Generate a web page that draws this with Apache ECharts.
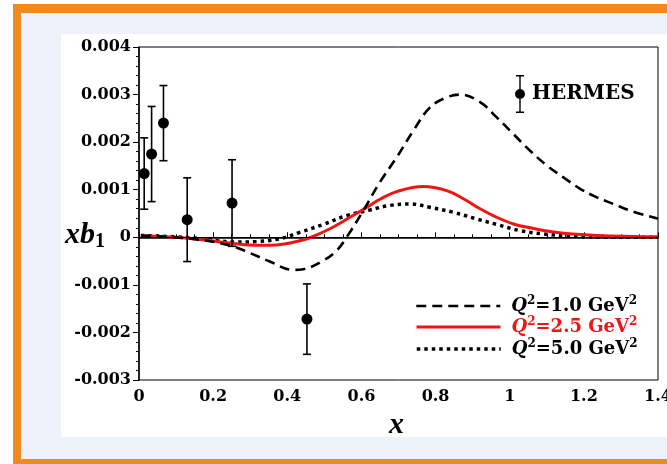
<!DOCTYPE html>
<html>
<head>
<meta charset="utf-8">
<script src="https://cdn.jsdelivr.net/npm/echarts@6.0.0/dist/echarts.min.js"></script>
<style>
  html, body { margin: 0; padding: 0; background: #fff; overflow: hidden; }
  .frame { position: absolute; left: 13px; top: 4px; width: 700px; height: 470px; background: #f08a1f; }
  .inner { position: absolute; left: 21px; top: 13px; width: 700px; height: 446px; background: #eef2fa; }
  .panel { position: absolute; left: 61px; top: 34px; width: 700px; height: 403px; background: #fff; }
  #chart { position: absolute; left: 0; top: 0; width: 667px; height: 464px; }
</style>
</head>
<body>
<div class="frame"></div>
<div class="inner"></div>
<div class="panel"></div>
<div id="chart"></div>
<script>
// HERMES data points (x, xb1, error)
var hermesX = [0.014, 0.034, 0.066, 0.130, 0.251, 0.453];
var hermesY = [0.00134, 0.00175, 0.00240, 0.00037, 0.00072, -0.00172];
var hermesErr = [0.00075, 0.00100, 0.00079, 0.00088, 0.00091, 0.00074];

// model curves (y in units of 1e-3)
var q1X = [0.005, 0.14, 0.245, 0.29, 0.353, 0.416, 0.443, 0.497, 0.533, 0.56, 0.605, 0.65, 0.695, 0.74, 0.785, 0.83, 0.866, 0.92, 0.965, 1.01, 1.055, 1.10, 1.145, 1.19, 1.235, 1.28, 1.325, 1.40];
var q1Y = [0.036, -0.03, -0.17, -0.30, -0.51, -0.685, -0.67, -0.49, -0.28, 0.0, 0.56, 1.16, 1.68, 2.24, 2.73, 2.94, 3.00, 2.84, 2.52, 2.17, 1.82, 1.51, 1.26, 1.02, 0.84, 0.70, 0.56, 0.39];

var q25X = [0.005, 0.147, 0.245, 0.326, 0.371, 0.425, 0.461, 0.515, 0.569, 0.623, 0.65, 0.695, 0.767, 0.83, 0.875, 0.92, 0.965, 1.01, 1.055, 1.10, 1.145, 1.235, 1.40];
var q25Y = [0.03, -0.03, -0.12, -0.17, -0.16, -0.09, -0.01, 0.18, 0.42, 0.67, 0.80, 0.96, 1.065, 0.98, 0.81, 0.60, 0.42, 0.28, 0.20, 0.13, 0.085, 0.04, 0.01];

var q5X = [0.005, 0.14, 0.21, 0.254, 0.317, 0.38, 0.434, 0.497, 0.56, 0.623, 0.677, 0.731, 0.785, 0.848, 0.911, 0.965, 1.028, 1.091, 1.154, 1.235, 1.40];
var q5Y = [0.04, -0.01, -0.07, -0.10, -0.09, -0.03, 0.105, 0.27, 0.455, 0.575, 0.67, 0.70, 0.63, 0.525, 0.385, 0.27, 0.14, 0.07, 0.03, 0.005, 0.0];

var xTicks = [0, 0.2, 0.4, 0.6, 0.8, 1.0, 1.2, 1.4];
var yTicks = [-0.003, -0.002, -0.001, 0, 0.001, 0.002, 0.003, 0.004];

var seriesNames = ['Q1', 'Q25', 'Q5'];
var legendTexts = ['=1.0 GeV', '=2.5 GeV', '=5.0 GeV'];

function zip(xs, ys) {
  return xs.map(function (x, i) { return [x, ys[i] / 1000]; });
}

var FONT = '"DejaVu Serif", serif';
var RED = '#f01414';

var chart = echarts.init(document.getElementById('chart'), null, { renderer: 'canvas' });

function legendRich(color) {
  return {
    q: { fontFamily: FONT, fontWeight: 'bold', fontStyle: 'italic', fontSize: 18, color: color, lineHeight: 22 },
    s: { fontFamily: FONT, fontWeight: 'bold', fontSize: 12, color: color, verticalAlign: 'top', lineHeight: 14 },
    t: { fontFamily: FONT, fontWeight: 'bold', fontSize: 18, color: color, lineHeight: 22 }
  };
}

function curveLegend(i, top, color, lineWidth) {
  return {
    left: 415,
    top: top,
    padding: 0,
    orient: 'horizontal',
    itemWidth: 84,
    itemHeight: 14,
    data: [seriesNames[i]],
    selectedMode: false,
    itemStyle: { opacity: 0 },
    lineStyle: { width: lineWidth },
    formatter: function () { return '{q|Q}{s|2}{t|' + legendTexts[i] + '}{s|2}'; },
    textStyle: { color: color, padding: [0, 0, 0, 6], rich: legendRich(color) }
  };
}

var option = {
  animation: false,
  backgroundColor: 'transparent',
  grid: {
    left: 139, right: 9, top: 47, bottom: 84,
    outerBoundsMode: 'none',
    show: true, borderColor: '#000', borderWidth: 1, backgroundColor: 'transparent'
  },
  xAxis: {
    type: 'value',
    min: xTicks[0], max: xTicks[xTicks.length - 1], interval: 0.2,
    axisLine: { lineStyle: { color: '#000', width: 1.5 } },
    axisTick: { inside: true, length: 5, lineStyle: { color: '#000', width: 1 } },
    minorTick: { show: true, splitNumber: 4, length: 3, lineStyle: { color: '#000', width: 1 } },
    splitLine: { show: false },
    axisLabel: {
      margin: 9, color: '#000', fontFamily: FONT, fontWeight: 'bold', fontSize: 16,
      formatter: function (v) { return String(+v.toFixed(1)); }
    }
  },
  yAxis: {
    type: 'value',
    min: yTicks[0], max: yTicks[yTicks.length - 1], interval: 0.001,
    axisLine: { lineStyle: { color: '#000', width: 1.5 } },
    axisTick: { inside: false, length: 6, lineStyle: { color: '#000', width: 1 } },
    minorTick: { show: true, splitNumber: 5, length: 3, lineStyle: { color: '#000', width: 1 } },
    splitLine: { show: false },
    axisLabel: {
      margin: 8, color: '#000', fontFamily: FONT, fontWeight: 'bold', fontSize: 16,
      formatter: function (v) { return Math.abs(v) < 1e-9 ? '0' : v.toFixed(3); }
    }
  },
  legend: [
    curveLegend(0, 295, '#000', 2.6),
    curveLegend(1, 316, RED, 3),
    curveLegend(2, 338, '#000', 3.5),
    {
      left: 515, top: 75, padding: 0,
      itemWidth: 12, itemHeight: 38,
      selectedMode: false,
      data: [{
        name: 'HERMES',
        icon: 'path://M2 0H10V1.6H2ZM5.3 0H6.7V38H5.3ZM2 36.4H10V38H2ZM1 19A5 5 0 1 1 11 19A5 5 0 1 1 1 19Z'
      }],
      itemStyle: { color: '#000', opacity: 1 },
      textStyle: { color: '#000', fontFamily: FONT, fontWeight: 'bold', fontSize: 20, padding: [0, 0, 0, 1] }
    }
  ],
  graphic: [
    {
      type: 'text', left: 65, top: 220,
      style: {
        text: '{i|xb}{s|1}',
        rich: {
          i: { fontFamily: '"Liberation Serif", serif', fontWeight: 'bold', fontStyle: 'italic', fontSize: 30, fill: '#000' },
          s: { fontFamily: '"Liberation Serif", serif', fontWeight: 'bold', fontSize: 20, fill: '#000', verticalAlign: 'bottom', padding: [14, 0, 0, 0] }
        }
      }
    },
    {
      type: 'text', left: 389, top: 410,
      style: { text: 'x', fontFamily: '"Liberation Serif", serif', fontWeight: 'bold', fontStyle: 'italic', fontSize: 30, fill: '#000' }
    }
  ],
  series: [
    {
      name: 'Q5', type: 'line', smooth: 0.4, symbol: 'none', clip: true,
      data: zip(q5X, q5Y),
      itemStyle: { color: '#000' },
      lineStyle: { color: '#000', width: 3.5, type: [3.5, 4], cap: 'butt' },
      markLine: {
        silent: true, symbol: 'none', label: { show: false },
        lineStyle: { color: '#000', width: 1, type: 'solid' },
        data: [{ yAxis: 0 }]
      },
      z: 3
    },
    {
      name: 'Q25', type: 'line', smooth: 0.4, symbol: 'none', clip: true,
      data: zip(q25X, q25Y),
      itemStyle: { color: RED },
      lineStyle: { color: RED, width: 3 },
      z: 4
    },
    {
      name: 'Q1', type: 'line', smooth: 0.4, symbol: 'none', clip: true,
      data: zip(q1X, q1Y),
      itemStyle: { color: '#000' },
      lineStyle: { color: '#000', width: 2.6, type: [10, 6], cap: 'butt' },
      z: 5
    },
    {
      name: 'HERMES err', type: 'custom',
      data: hermesX.map(function (x, i) { return [x, hermesY[i] - hermesErr[i], hermesY[i] + hermesErr[i]]; }),
      encode: { x: 0, y: [1, 2] },
      renderItem: function (params, api) {
        var x = api.value(0);
        var pLo = api.coord([x, api.value(1)]);
        var pHi = api.coord([x, api.value(2)]);
        var cap = 4;
        var st = { stroke: '#000', lineWidth: 1.6 };
        return {
          type: 'group',
          children: [
            { type: 'line', shape: { x1: pLo[0], y1: pLo[1], x2: pHi[0], y2: pHi[1] }, style: st },
            { type: 'line', shape: { x1: pLo[0] - cap, y1: pLo[1], x2: pLo[0] + cap, y2: pLo[1] }, style: st },
            { type: 'line', shape: { x1: pHi[0] - cap, y1: pHi[1], x2: pHi[0] + cap, y2: pHi[1] }, style: st }
          ]
        };
      },
      z: 6
    },
    {
      name: 'HERMES', type: 'scatter',
      data: hermesX.map(function (x, i) { return [x, hermesY[i]]; }),
      symbol: 'circle', symbolSize: 11,
      itemStyle: { color: '#000', opacity: 1 },
      z: 7
    }
  ]
};

chart.setOption(option);
</script>
</body>
</html>
